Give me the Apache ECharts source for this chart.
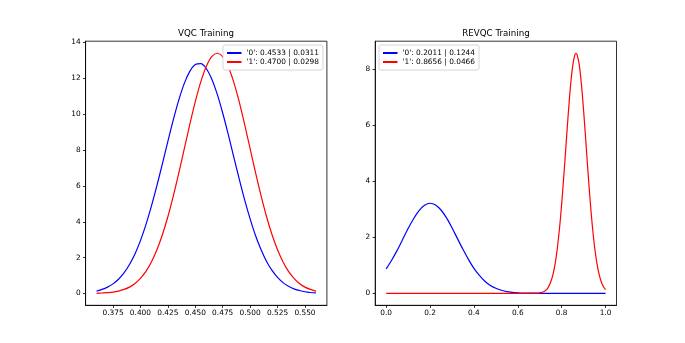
<!DOCTYPE html>
<html>
<head>
<meta charset="utf-8">
<script src="https://cdn.jsdelivr.net/npm/echarts@6/dist/echarts.min.js"></script>
<style>
  html, body { margin: 0; padding: 0; background: #fff; }
  #chart { width: 685px; height: 343px; }
</style>
</head>
<body>
<div id="chart"></div>
<script>
// VQC Training (left panel), both curves share the same x samples
const vqcX = [0.360, 0.365, 0.370, 0.375, 0.380, 0.385, 0.390, 0.395, 0.400, 0.405, 0.410, 0.415, 0.420, 0.425, 0.430, 0.435, 0.440, 0.445, 0.450, 0.455, 0.460, 0.465, 0.470, 0.475, 0.480, 0.485, 0.490, 0.495, 0.500, 0.505, 0.510, 0.515, 0.520, 0.525, 0.530, 0.535, 0.540, 0.545, 0.550, 0.555, 0.560];
const vqcY0 = [0.14, 0.23, 0.36, 0.54, 0.80, 1.15, 1.62, 2.21, 2.95, 3.84, 4.87, 6.01, 7.23, 8.48, 9.69, 10.79, 11.71, 12.38, 12.76, 12.81, 12.54, 11.95, 11.11, 10.06, 8.88, 7.63, 6.40, 5.22, 4.16, 3.22, 2.44, 1.79, 1.29, 0.90, 0.61, 0.41, 0.26, 0.17, 0.10, 0.06, 0.04];
const vqcY1 = [0.01, 0.03, 0.05, 0.08, 0.14, 0.23, 0.36, 0.56, 0.85, 1.24, 1.76, 2.44, 3.28, 4.28, 5.44, 6.72, 8.07, 9.42, 10.69, 11.79, 12.65, 13.20, 13.39, 13.20, 12.65, 11.79, 10.69, 9.42, 8.07, 6.72, 5.44, 4.28, 3.28, 2.44, 1.76, 1.24, 0.85, 0.56, 0.36, 0.23, 0.14];

// REVQC Training (right panel)
const revX0 = [0, 0.025, 0.05, 0.075, 0.10, 0.125, 0.15, 0.175, 0.20, 0.225, 0.25, 0.275, 0.30, 0.325, 0.35, 0.375, 0.40, 0.425, 0.45, 0.475, 0.50, 0.525, 0.55, 0.575, 0.60, 0.625, 0.65, 0.70, 0.75, 0.80, 0.85, 0.90, 0.95, 1.00];
const revY0 = [0.87, 1.18, 1.53, 1.92, 2.31, 2.66, 2.95, 3.14, 3.21, 3.15, 2.97, 2.69, 2.34, 1.95, 1.57, 1.21, 0.89, 0.64, 0.43, 0.28, 0.18, 0.11, 0.06, 0.035, 0.02, 0.01, 0.005, 0, 0, 0, 0, 0, 0, 0];
const revX1 = [0, 0.2, 0.4, 0.6, 0.65, 0.68, 0.70, 0.72, 0.73, 0.74, 0.75, 0.76, 0.77, 0.78, 0.79, 0.80, 0.81, 0.82, 0.83, 0.84, 0.85, 0.86, 0.8656, 0.87, 0.88, 0.89, 0.90, 0.91, 0.92, 0.93, 0.94, 0.95, 0.96, 0.97, 0.98, 0.99, 1.00];
const revY1 = [0, 0, 0, 0, 0, 0.003, 0.016, 0.065, 0.12, 0.23, 0.40, 0.66, 1.04, 1.59, 2.30, 3.18, 4.20, 5.30, 6.39, 7.36, 8.09, 8.50, 8.56, 8.52, 8.16, 7.46, 6.52, 5.44, 4.33, 3.29, 2.39, 1.66, 1.10, 0.70, 0.42, 0.24, 0.13];

const names = ["'0': 0.4533 | 0.0311", "'1': 0.4700 | 0.0298", "'0': 0.2011 | 0.1244", "'1': 0.8656 | 0.0466"];

// tick positions
const vqcXTicks = [0.375, 0.400, 0.425, 0.450, 0.475, 0.500, 0.525, 0.550];
const vqcYTicks = [0, 2, 4, 6, 8, 10, 12, 14];
const revXTicks = [0.0, 0.2, 0.4, 0.6, 0.8, 1.0];
const revYTicks = [0, 2, 4, 6, 8];

const pairs = (xs, ys) => xs.map((x, i) => [x, ys[i]]);

const font = 'DejaVu Sans';
const txt = { color: '#000', fontFamily: font, fontSize: 7.4 };

const makeAxis = (gi, min, max, ticks, digits, margin) => ({
  type: 'value',
  gridIndex: gi,
  min: min,
  max: max,
  axisLine: { show: true, onZero: false, lineStyle: { color: '#000', width: 0.8 } },
  axisTick: { show: true, inside: false, length: 2.6, customValues: ticks, lineStyle: { color: '#000', width: 0.8 } },
  axisLabel: Object.assign({ margin: margin, customValues: ticks, formatter: v => v.toFixed(digits) }, txt),
  splitLine: { show: false }
});

const line = (name, data, color, xi) => ({
  name: name,
  type: 'line',
  xAxisIndex: xi,
  yAxisIndex: xi,
  data: data,
  symbol: 'none',
  smooth: 0.3,
  lineStyle: { color: color, width: 1.2 },
  itemStyle: { color: color },
  animation: false
});

const legendBase = {
  orient: 'vertical',
  top: 45,
  itemWidth: 14.5,
  itemHeight: 7,
  itemGap: 2,
  padding: [4.5, 4, 4.5, 3],
  backgroundColor: '#fff',
  borderColor: '#ccc',
  borderWidth: 0.8,
  borderRadius: 2,
  itemStyle: { opacity: 0 },
  textStyle: txt
};

const titleStyle = { color: '#000', fontFamily: font, fontSize: 8.7, fontWeight: 'normal' };

const chart = echarts.init(document.getElementById('chart'));
chart.setOption({
  backgroundColor: '#fff',
  animation: false,
  title: [
    { text: 'VQC Training', left: 206, top: 29, padding: 0, textAlign: 'center', textStyle: titleStyle },
    { text: 'REVQC Training', left: 496, top: 29, padding: 0, textAlign: 'center', textStyle: titleStyle }
  ],
  legend: [
    Object.assign({ data: [names[0], names[1]], right: 362 }, legendBase),
    Object.assign({ data: [names[2], names[3]], left: 379 }, legendBase)
  ],
  grid: [
    { left: 85.6, top: 41.2, width: 241.3, height: 264.1, show: true, borderColor: '#000', borderWidth: 0.8 },
    { left: 375.2, top: 41.2, width: 241.3, height: 264.1, show: true, borderColor: '#000', borderWidth: 0.8 }
  ],
  xAxis: [
    makeAxis(0, 0.35, 0.57, vqcXTicks, 3, 4),
    makeAxis(1, -0.05, 1.05, revXTicks, 1, 4)
  ],
  yAxis: [
    makeAxis(0, -0.654, 14.06, vqcYTicks, 0, 5),
    makeAxis(1, -0.428, 8.989, revYTicks, 0, 5)
  ],
  series: [
    line(names[0], pairs(vqcX, vqcY0), '#0000ff', 0),
    line(names[1], pairs(vqcX, vqcY1), '#ff0000', 0),
    line(names[2], pairs(revX0, revY0), '#0000ff', 1),
    line(names[3], pairs(revX1, revY1), '#ff0000', 1)
  ]
});
</script>
</body>
</html>
